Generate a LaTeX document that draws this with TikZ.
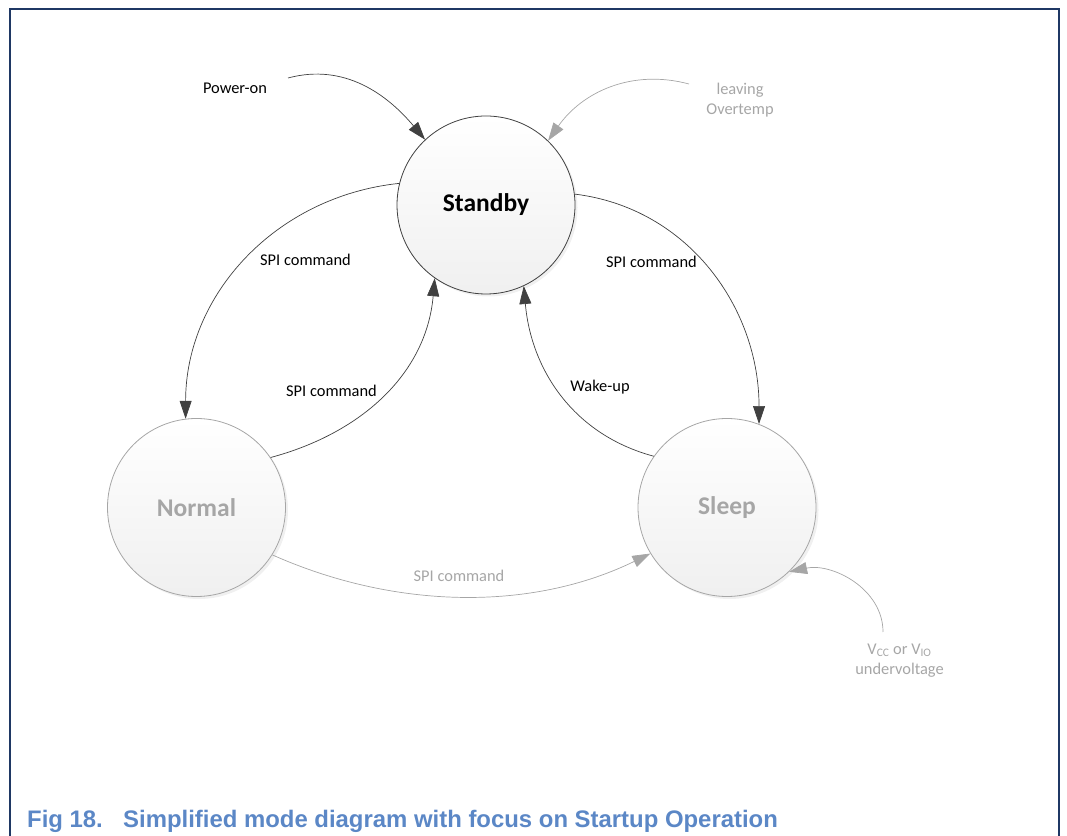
\documentclass[tikz,border=0pt]{standalone}
\usepackage{fontspec}
\setmainfont{Carlito}
\newfontfamily\capfont{Liberation Sans}
\usetikzlibrary{arrows.meta,shadows}

\definecolor{darkline}{HTML}{404040}
\definecolor{lightline}{HTML}{A6A6A6}
\definecolor{frameblue}{HTML}{1F3864}
\definecolor{captionblue}{HTML}{5B87C6}

\tikzset{
  modebox/.style={circle, minimum size=178pt, inner sep=0pt,
    top color=white, bottom color=black!6, line width=0.8pt,
    drop shadow={shadow xshift=2.5pt, shadow yshift=-2.5pt, opacity=0.12},
    font=\fontsize{25.5}{30}\selectfont\bfseries},
  activemode/.style={modebox, draw=darkline, text=black},
  idlemode/.style={modebox, draw=lightline, text=lightline},
  lbl/.style={inner sep=0pt, align=center, font=\fontsize{16.4}{20}\selectfont},
  darklbl/.style={lbl, text=black},
  greylbl/.style={lbl, text=lightline},
  darkarrow/.style={draw=darkline, line width=0.7pt,
    -{Triangle[length=18pt, width=12pt]}},
  greyarrow/.style={draw=lightline, line width=0.7pt,
    -{Triangle[length=18pt, width=12pt]}}
}

\begin{document}
\begin{tikzpicture}[x=1pt, y=1pt]
  \useasboundingbox (0,0) rectangle (1067,835);

  % outer frame, open at the bottom
  \draw[frameblue, line width=1.2pt] (10,-2) -- (10,826) -- (1059,826) -- (1059,-2);

  % modes
  \node[activemode] (standby) at (486,630) {Standby};
  \node[idlemode]   (normal)  at (196.5,327.5) {Normal};
  \node[idlemode]   (sleep)   at (727,327.5) {Sleep};

  % free ends of the entry transitions
  \coordinate (pwr)  at (288,757);
  \coordinate (otmp) at (689,751);
  \coordinate (uv)   at (883,203);

  % transitions
  \draw[darkarrow] (pwr) to[out=15, in=130] (standby.133);
  \draw[greyarrow] (otmp) to[out=165, in=55] (standby.46);
  \draw[darkarrow] (standby.166) to[out=186, in=90] (normal.97);
  \draw[darkarrow] (normal.34) to[out=15, in=265] (standby.235);
  \draw[darkarrow] (standby.7) to[out=-7, in=90] (sleep.69);
  \draw[darkarrow] (sleep.145) to[out=165, in=275] (standby.295);
  \draw[greyarrow] (normal.328) to[out=-24, in=206, looseness=0.9] (sleep.211);
  \draw[greyarrow] (uv) to[out=90, in=12] (sleep.314);

  % transition labels
  \node[darklbl] (lpwr) at (235,747) {Power-on};
  \node[greylbl] (lotmp) at (740,735) {leaving\\Overtemp};
  \node[darklbl] (lsn) at (305.5,575) {SPI command};
  \node[darklbl] (lns) at (331.5,444) {SPI command};
  \node[darklbl] (lss) at (651.5,573) {SPI command};
  \node[darklbl] (lwk) at (600,448) {Wake-up};
  \node[greylbl] (lnl) at (459,259) {SPI command};
  \node[greylbl] (luv) at (899.5,174.5) {V\textsubscript{CC} or V\textsubscript{IO}\\undervoltage};

  % caption
  \node[anchor=base west, inner sep=0pt, text=captionblue,
        font=\capfont\bfseries\fontsize{23.9}{28}\selectfont] (cap) at (27,7.5)
    {Fig 18.\hspace{0.85em}Simplified mode diagram with focus on Startup Operation};
\end{tikzpicture}
\end{document}
